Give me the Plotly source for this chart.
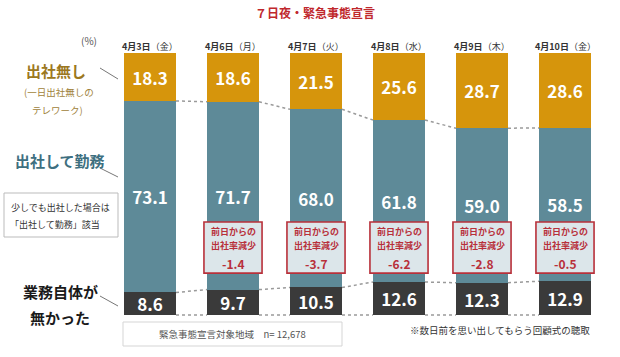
import plotly.graph_objects as go

# ---- data ----
dates = ["4月3日", "4月6日", "4月7日", "4月8日", "4月9日", "4月10日"]
weekdays = ["（金）", "（月）", "（火）", "（水）", "（木）", "（金）"]
no_work = [8.6, 9.7, 10.5, 12.6, 12.3, 12.9]        # 業務自体が無かった
commute = [73.1, 71.7, 68.0, 61.8, 59.0, 58.5]      # 出社して勤務
telework = [18.3, 18.6, 21.5, 25.6, 28.7, 28.6]     # 出社無し
decrease = [None, -1.4, -3.7, -6.2, -2.8, -0.5]     # 前日からの出社率減少

W, H = 620, 357
FONT = "Noto Sans CJK JP"
C_ORANGE = "#D6950C"
C_TEAL = "#5E8A98"
C_DARK = "#3A3A3A"
C_RED = "#B8303A"

# pixel geometry mapping (margins 0, axes invisible)
X0PX, DXPX = 150, 83
Y0PX, Y100PX = 315, 53
ppu = (Y0PX - Y100PX) / 100.0
xr = [-X0PX / DXPX, (W - X0PX) / DXPX]
yr = [-(H - Y0PX) / ppu, 100 + Y100PX / ppu]
BW = 52 / DXPX

def px(xp):
    return xp / W

def py(yp):
    return 1 - yp / H

idx = list(range(len(dates)))
fig = go.Figure()

for vals, col in [(no_work, C_DARK), (commute, C_TEAL), (telework, C_ORANGE)]:
    fig.add_trace(go.Bar(
        x=idx, y=vals, width=BW, marker=dict(color=col, line=dict(width=0)),
        text=[f"{v:.1f}" for v in vals], textposition="inside",
        insidetextanchor="middle", constraintext="none",
        textfont=dict(family=FONT, size=17, color="white", weight="bold"),
        hoverinfo="skip", showlegend=False,
    ))

# dotted connectors between bars
b1 = no_work
b2 = [a + b for a, b in zip(no_work, commute)]
b0 = [0] * len(idx)
for levels in (b0, b1, b2):
    for i in range(len(idx) - 1):
        fig.add_trace(go.Scatter(
            x=[i + BW / 2, i + 1 - BW / 2], y=[levels[i], levels[i + 1]],
            mode="lines", line=dict(color="#9A9A9A", width=1.5, dash="dot"),
            hoverinfo="skip", showlegend=False,
        ))

shapes = []
annotations = []

# decrease boxes
for i, d in enumerate(decrease):
    if d is None:
        continue
    shapes.append(dict(type="rect", xref="x", yref="y",
                       x0=i - 0.35, x1=i + 0.35, y0=16.0, y1=35.5,
                       fillcolor="#DCE6EA", line=dict(color=C_RED, width=1.6)))
    annotations.append(dict(xref="x", yref="y", x=i, y=(Y0PX - 231) / ppu,
                            text="<b>前日からの</b>", showarrow=False,
                            font=dict(family=FONT, size=9, color=C_RED)))
    annotations.append(dict(xref="x", yref="y", x=i, y=(Y0PX - 245) / ppu,
                            text="<b>出社率減少</b>", showarrow=False,
                            font=dict(family=FONT, size=9, color=C_RED)))
    annotations.append(dict(xref="x", yref="y", x=i, y=(Y0PX - 263) / ppu,
                            text=f"<b>{d:.1f}</b>", showarrow=False,
                            font=dict(family=FONT, size=12, color=C_RED)))

# date labels
for i, (d, w) in enumerate(zip(dates, weekdays)):
    annotations.append(dict(xref="x", yref="paper", x=i, y=py(38),
                            text=f"<b>{d}</b>{w}", showarrow=False,
                            font=dict(family=FONT, size=9, color="#333333")))

def txt(x, y, t, size, color, xanchor="center"):
    annotations.append(dict(xref="paper", yref="paper", x=px(x), y=py(y),
                            text=t, showarrow=False, xanchor=xanchor,
                            yanchor="middle",
                            font=dict(family=FONT, size=size, color=color)))

txt(315, 13, "<b>７日夜・緊急事態宣言</b>", 12, "#C0282D")
txt(89, 40, "(%)", 10, "#555555")
txt(56, 71, "<b>出社無し</b>", 15, "#9C7820")
txt(59, 92, "(一日出社無しの", 9.5, "#A0823A")
txt(57, 110, "テレワーク)", 9.5, "#A0823A")
txt(60, 160, "<b>出社して勤務</b>", 15, "#3E6F80")
txt(9, 207, "少しでも出社した場合は", 9, "#333333", "left")
txt(8, 224, "「出社して勤務」該当", 9, "#333333", "left")
txt(60, 291, "<b>業務自体が</b>", 15, "#1A1A1A")
txt(60, 317, "<b>無かった</b>", 15, "#1A1A1A")
txt(232, 334, "緊急事態宣言対象地域　n= 12,678", 9.5, "#555555")
txt(500, 330, "※数日前を思い出してもらう回顧式の聴取", 9.5, "#333333")

def pline(x0, y0, x1, y1):
    shapes.append(dict(type="line", xref="paper", yref="paper",
                       x0=px(x0), y0=py(y0), x1=px(x1), y1=py(y1),
                       line=dict(color="#777777", width=1)))

def pbox(x0, y0, x1, y1, color):
    shapes.append(dict(type="rect", xref="paper", yref="paper",
                       x0=px(x0), y0=py(y0), x1=px(x1), y1=py(y1),
                       line=dict(color=color, width=1), fillcolor="rgba(0,0,0,0)"))

pline(100, 68, 118, 79)
pline(100, 168, 118, 177)
pline(100, 296, 118, 306)
pbox(4, 193, 118, 237, "#BBBBBB")
pbox(123, 322, 342, 346, "#D5D5D5")

fig.update_layout(
    width=W, height=H, barmode="stack", bargap=0,
    margin=dict(l=0, r=0, t=0, b=0),
    paper_bgcolor="white", plot_bgcolor="white",
    xaxis=dict(range=xr, visible=False, fixedrange=True),
    yaxis=dict(range=yr, visible=False, fixedrange=True),
    shapes=shapes, annotations=annotations,
    font=dict(family=FONT),
)

fig.write_html("out.html", config={"displayModeBar": False},
               post_script="document.body.style.margin='0';document.body.style.overflow='hidden';")
